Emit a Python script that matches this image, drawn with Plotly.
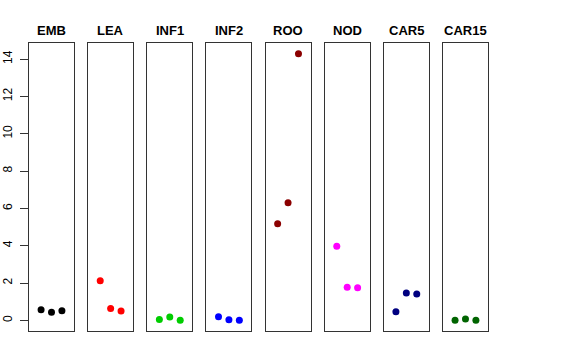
import plotly.graph_objects as go

tissues = ["EMB", "LEA", "INF1", "INF2", "ROO", "NOD", "CAR5", "CAR15"]
rep1 = [0.57, 2.12, 0.05, 0.19, 5.18, 3.97, 0.46, 0.00]
rep2 = [0.43, 0.64, 0.18, 0.03, 6.30, 1.77, 1.46, 0.07]
rep3 = [0.51, 0.50, 0.00, 0.00, 14.29, 1.75, 1.41, 0.00]
colors = ["#000000", "#FF0000", "#00CD00", "#0000FF", "#8B0000", "#FF00FF", "#000080", "#006400"]
y_ticks = [0, 2, 4, 6, 8, 10, 12, 14]

W, H = 576, 360
left0, step, pw = 29.0, 59.14, 45.0
top, bottom = 43.0, 331.0
title_y = 30.0

fig = go.Figure()
layout = dict(width=W, height=H, autosize=False, margin=dict(l=0, r=0, t=0, b=0, pad=0),
              paper_bgcolor="white", plot_bgcolor="white", showlegend=False,
              font=dict(family="Liberation Sans, Arial, sans-serif", color="black"))
annotations = []
ymin, ymax = 0.0, 14.29
span = ymax - ymin
yr = [ymin - 0.04 * span, ymax + 0.04 * span]
xr = [0 - 0.04 * 4, 4 + 0.04 * 4]

for i, t in enumerate(tissues):
    n = "" if i == 0 else str(i + 1)
    x0 = (left0 + step * i) / W
    x1 = (left0 + step * i + pw) / W
    fig.add_trace(go.Scatter(
        x=[1, 2, 3], y=[rep1[i], rep2[i], rep3[i]], mode="markers",
        marker=dict(color=colors[i], size=7, line=dict(width=0)),
        xaxis="x" + n, yaxis="y" + n, hoverinfo="skip"))
    layout["xaxis" + n] = dict(domain=[x0, x1], range=xr, showgrid=False, zeroline=False,
                               showticklabels=False, ticks="", showline=True, mirror=True,
                               linecolor="#333333", linewidth=1, anchor="y" + n,
                               fixedrange=True, automargin=False)
    ya = dict(domain=[1 - bottom / H, 1 - top / H], range=yr, showgrid=False, zeroline=False,
              showline=True, mirror=True, linecolor="#333333", linewidth=1,
              anchor="x" + n, fixedrange=True, automargin=False)
    if i == 0:
        ya.update(tickmode="array", tickvals=y_ticks, ticktext=[str(v) for v in y_ticks],
                  ticks="outside", ticklen=8, tickcolor="#333333", tickangle=-90,
                  tickfont=dict(size=12, color="black"), ticklabelstandoff=3)
    else:
        ya.update(showticklabels=False, ticks="")
    layout["yaxis" + n] = ya
    annotations.append(dict(text="<b>" + t + "</b>", x=(x0 + x1) / 2, y=1 - title_y / H,
                            xref="paper", yref="paper", showarrow=False,
                            xanchor="center", yanchor="middle",
                            font=dict(size=13, color="black")))

layout["annotations"] = annotations
fig.update_layout(**layout)
fig.write_html("out.html", config={"displayModeBar": False},
               post_script="document.body.style.margin='0';document.body.style.overflow='hidden';")
